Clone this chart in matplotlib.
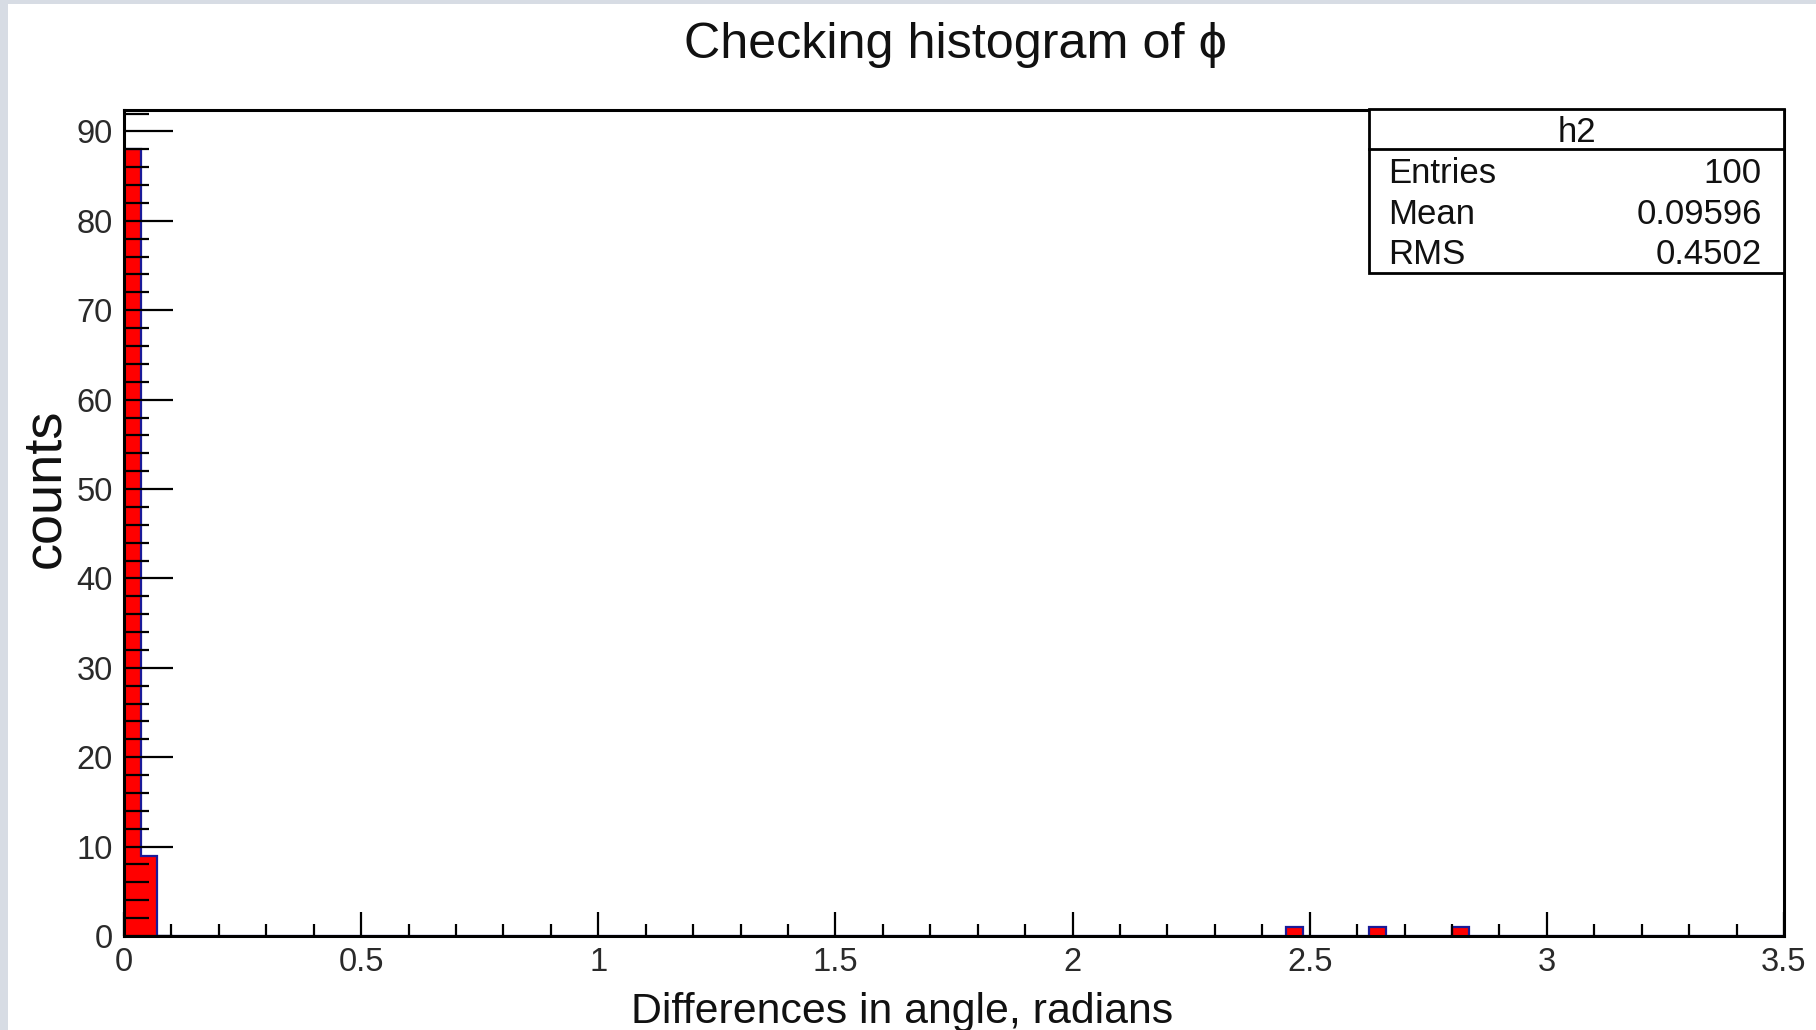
import numpy as np
import matplotlib
matplotlib.use('Agg')
import matplotlib.pyplot as plt
from matplotlib.ticker import MultipleLocator, FuncFormatter
from matplotlib.patches import Rectangle

# Histogram h2: 100 bins between 0 and 3.5 rad, only a few bins are filled
n_bins = 100
x_min, x_max = 0.0, 3.5
filled_bins = [0, 1, 70, 75, 80]
bin_counts = [88, 9, 1, 1, 1]

# Stats box
stats_name = 'h2'
stats_labels = ['Entries', 'Mean', 'RMS']
stats_values = ['100', '0.09596', '0.4502']

title = 'Checking histogram of \u03d5'
xlabel = 'Differences in angle, radians'
ylabel = 'counts'

W, H = 1816, 1030
plt.rcParams['font.family'] = ['Liberation Sans', 'DejaVu Sans']

fig = plt.figure(figsize=(W / 100, H / 100), dpi=100)
fig.patch.set_facecolor('#d7dce4')


def fx(px):
    return px / W


def fy(py):
    return 1 - py / H


# white canvas inside the grey border
fig.patches.append(Rectangle((fx(8), 0), 1, fy(4), transform=fig.transFigure,
                             facecolor='white', edgecolor='none', zorder=-5))

ax = fig.add_axes([fx(124), fy(936), fx(1784) - fx(124), fy(110) - fy(936)])
ax.set_zorder(1)
ax.set_facecolor('white')

edges = np.linspace(x_min, x_max, n_bins + 1)
counts = np.zeros(n_bins)
counts[filled_bins] = bin_counts

ax.stairs(counts, edges, fill=True, facecolor='#ff0000', edgecolor='none', zorder=1)
ax.stairs(counts, edges, fill=False, edgecolor='#1a1a99', linewidth=1.6, zorder=1.2)

ax.set_xlim(x_min, x_max)
ax.set_ylim(0, 1.05 * max(bin_counts))

ax.xaxis.set_major_locator(MultipleLocator(0.5))
ax.xaxis.set_minor_locator(MultipleLocator(0.1))
ax.yaxis.set_major_locator(MultipleLocator(10))
ax.yaxis.set_minor_locator(MultipleLocator(2))
ax.xaxis.set_major_formatter(FuncFormatter(lambda v, p: f'{v:g}'))

ax.tick_params(axis='both', which='both', direction='in', color='black',
               width=1.6, labelsize=23.5, labelcolor='#2a2a2a')
ax.tick_params(axis='x', which='major', length=17, pad=8)
ax.tick_params(axis='x', which='minor', length=8.5)
ax.tick_params(axis='y', which='major', length=35, pad=8)
ax.tick_params(axis='y', which='minor', length=18)

for s in ax.spines.values():
    s.set_linewidth(2.2)
    s.set_color('black')

fig.text(fx(955), fy(58), title, ha='center', va='baseline', fontsize=36.2, color='#111111')
fig.text(fx(902), fy(1023), xlabel, ha='center', va='baseline', fontsize=30.8, color='#111111')
fig.text(fx(45), fy(488), ylabel, ha='center', va='center', rotation=90,
         fontsize=39, color='#111111')

# stats box
box_l, box_r, box_t, box_b, box_sep = 1369, 1784, 109, 273, 149
fig.patches.append(Rectangle((fx(box_l), fy(box_b)), fx(box_r) - fx(box_l), fy(box_t) - fy(box_b),
                             transform=fig.transFigure, facecolor='white',
                             edgecolor='black', linewidth=2.0, zorder=5))
fig.add_artist(plt.Line2D([fx(box_l), fx(box_r)], [fy(box_sep), fy(box_sep)],
                          transform=fig.transFigure, color='black', linewidth=2.0, zorder=6))
fig.text(fx((box_l + box_r) / 2), fy(132), stats_name, ha='center', va='center',
         fontsize=25, color='#111111', zorder=7)
row_y = [173, 214, 254]
for lab, val, yy in zip(stats_labels, stats_values, row_y):
    fig.text(fx(1388), fy(yy), lab, ha='left', va='center', fontsize=25, color='#111111', zorder=7)
    fig.text(fx(1762), fy(yy), val, ha='right', va='center', fontsize=25, color='#111111', zorder=7)

fig.savefig('out.png', dpi=100, facecolor=fig.get_facecolor())
